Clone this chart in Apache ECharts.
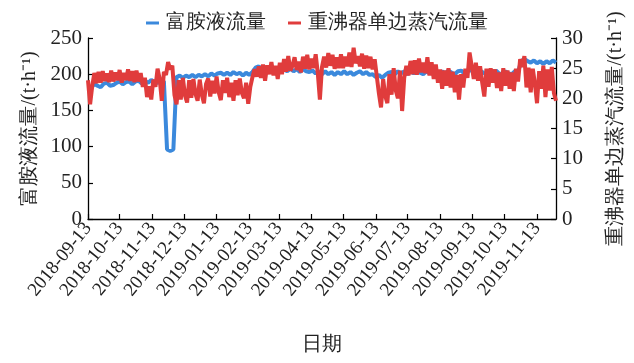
<!DOCTYPE html>
<html>
<head>
<meta charset="utf-8">
<script src="https://cdn.jsdelivr.net/npm/echarts@6/dist/echarts.min.js"></script>
<style>html,body{margin:0;padding:0;background:#fff}#c{width:634px;height:363px}</style>
</head>
<body>
<div id="c"></div>
<script>
// date range (daily categories)
const startDate = '2018-09-13';
const endDate = '2019-12-01';
const seriesNames = ['富胺液流量', '重沸器单边蒸汽流量'];
const leftTicks = [0, 50, 100, 150, 200, 250];
const rightTicks = [0, 5, 10, 15, 20, 25, 30];

// 富胺液流量 (t/h), one value every 3 days from startDate
const amineStep = 3;
const amineFlow = [
184,181,187,184,182,187,188,184,185,188,
190,186,189,190,186,190,191,187,191,188,
192,189,188,191,190,96,94,96,196,198,
195,198,196,199,196,199,197,200,197,201,
198,201,202,199,202,199,203,200,202,198,
202,199,203,209,211,206,209,205,208,204,
207,203,207,204,208,204,207,203,207,204,
203,205,201,204,200,204,200,203,199,203,
200,204,200,203,199,202,204,200,203,199,
200,196,199,195,199,202,203,200,204,201,
204,200,204,201,205,202,200,204,201,205,
202,200,204,201,205,202,200,204,205,201,
204,206,202,203,205,202,200,204,201,205,
201,200,204,201,200,204,203,218,221,218,
216,219,215,218,214,218,215,219,216
];

// 重沸器单边蒸汽流量 (t/h), one value every 2 days from startDate
const steamStep = 2;
const steamFlow = [
23.0,19.0,22.0,24.2,22.5, 24.4,22.6,24.5,22.9,24.1,
22.7,24.6,22.8,24.3,23.0, 24.7,22.6,24.2,23.0,24.8,
22.9,24.5,22.7,24.6,22.8, 24.2,21.9,23.4,20.2,22.0,
19.8,23.1,21.9,24.9,23.2, 19.6,24.4,23.9,26.0,24.8,
25.4,20.6,19.0,23.0,19.8, 23.4,20.5,19.3,23.0,20.1,
23.2,20.7,19.6,23.1,20.6, 19.2,22.4,23.3,20.3,22.9,
20.8,23.6,21.0,19.7,23.0, 20.9,23.4,20.2,22.6,19.6,
23.0,20.5,23.3,20.9,20.0, 22.6,19.1,21.9,23.5,24.8,
23.6,25.3,23.4,25.6,22.9, 25.5,24.0,26.0,23.8,25.4,
23.2,25.9,24.0,26.5,24.4, 27.0,24.6,25.4,26.8,24.7,
26.1,24.3,26.9,24.9,27.2, 24.8,26.6,25.0,27.3,24.2,
19.8,25.2,26.9,25.1,27.5, 25.4,27.2,24.9,26.8,25.0,
27.3,25.0,26.9,25.3,27.6, 25.2,28.4,25.8,27.0,25.3,
27.4,24.9,27.1,25.0,26.9, 24.8,26.5,23.6,20.8,18.5,
23.2,20.4,19.2,24.0,20.6, 25.0,21.3,20.0,24.6,17.9,
23.4,25.4,23.8,26.2,24.0, 26.3,23.9,26.6,24.3,25.9,
24.2,26.8,23.8,26.0,23.2, 25.6,22.6,24.8,21.6,24.6,
22.1,25.0,21.8,24.4,21.0, 23.9,19.8,24.0,21.8,24.9,
23.4,27.6,25.4,23.2,25.9, 22.9,25.3,22.6,20.3,24.9,
21.9,25.0,22.6,24.8,21.7, 24.3,21.2,25.0,22.1,24.6,
21.6,24.3,21.2,24.9,22.8, 26.5,25.2,27.0,21.8,25.1,
21.0,24.9,22.4,19.2,24.5, 21.6,25.4,20.2,24.8,21.3,
25.2,20.9,19.6
];

// build daily category list
const dates = [];
(function(){
  const d = new Date(startDate + 'T00:00:00Z');
  const e = new Date(endDate + 'T00:00:00Z');
  while (d <= e) {
    dates.push(d.toISOString().slice(0, 10));
    d.setUTCDate(d.getUTCDate() + 1);
  }
})();

const amineData = amineFlow.map((v, i) => [dates[i * amineStep], v]);
const steamData = steamFlow.map((v, i) => [dates[i * steamStep], v]);

const FONT = 'Liberation Serif';
const TXT = '#222';
const isTick = (idx, val) => /-13$/.test(val);

const chart = echarts.init(document.getElementById('c'));
chart.setOption({
  animation: false,
  backgroundColor: '#fff',
  textStyle: { fontFamily: FONT },
  legend: {
    top: 8,
    left: 'center',
    itemWidth: 13,
    itemHeight: 3,
    itemGap: 22,
    icon: 'rect',
    textStyle: { fontFamily: FONT, fontSize: 20, color: TXT, padding: [0, 0, 0, 2] },
    data: seriesNames
  },
  grid: { left: 88, right: 66, top: 38, bottom: 144, containLabel: false },
  xAxis: {
    type: 'category',
    data: dates,
    boundaryGap: false,
    name: '日期',
    nameLocation: 'middle',
    nameGap: 116,
    nameTextStyle: { fontFamily: FONT, fontSize: 20, color: TXT },
    axisLine: { lineStyle: { color: '#000', width: 1.3 } },
    axisTick: { inside: true, length: 5, interval: isTick, lineStyle: { color: '#000', width: 1.2 } },
    axisLabel: { interval: isTick, rotate: 51, fontFamily: FONT, fontSize: 19, color: TXT, margin: 6 },
    splitLine: { show: false }
  },
  yAxis: [
    {
      type: 'value', min: 0, max: 250, interval: 50,
      name: '富胺液流量/(t·h⁻¹)',
      nameLocation: 'middle', nameRotate: 90, nameGap: 46,
      nameTextStyle: { fontFamily: FONT, fontSize: 20, color: TXT },
      axisLine: { show: true, lineStyle: { color: '#000', width: 1.3 } },
      axisTick: { show: true, inside: true, length: 5, lineStyle: { color: '#000', width: 1.2 } },
      axisLabel: { fontFamily: FONT, fontSize: 21, color: TXT, margin: 6,
        customValues: leftTicks },
      splitLine: { show: false }
    },
    {
      type: 'value', min: 0, max: 30, interval: 5,
      name: '重沸器单边蒸汽流量/(t·h⁻¹)',
      nameLocation: 'middle', nameRotate: 90, nameGap: 50,
      nameTextStyle: { fontFamily: FONT, fontSize: 20, color: TXT },
      axisLine: { show: true, lineStyle: { color: '#000', width: 1.3 } },
      axisTick: { show: true, inside: true, length: 5, lineStyle: { color: '#000', width: 1.2 } },
      axisLabel: { fontFamily: FONT, fontSize: 21, color: TXT, margin: 6,
        customValues: rightTicks },
      splitLine: { show: false }
    }
  ],
  series: [
    {
      name: seriesNames[0], type: 'line', yAxisIndex: 0,
      data: amineData, showSymbol: false, symbol: 'none',
      lineStyle: { color: '#3b89dc', width: 4 }, itemStyle: { color: '#3b89dc' }
    },
    {
      name: seriesNames[1], type: 'line', yAxisIndex: 1,
      data: steamData, showSymbol: false, symbol: 'none',
      lineStyle: { color: '#e03c3c', width: 4 }, itemStyle: { color: '#e03c3c' }
    }
  ]
});
</script>
</body>
</html>
